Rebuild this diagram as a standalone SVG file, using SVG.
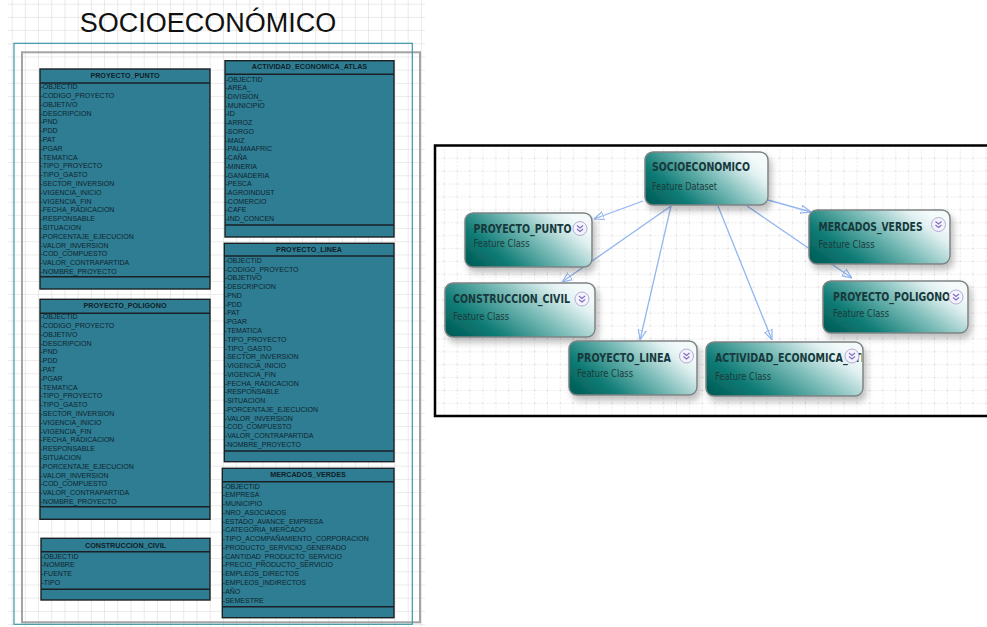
<svg xmlns="http://www.w3.org/2000/svg" width="987" height="627" viewBox="0 0 987 627">
  <defs>
    <style>
      .tbl { fill: #2e7d92; stroke: #1b2024; stroke-width: 1.4; }
      .sep { stroke: #1b2024; stroke-width: 1.4; }
      .thead { font-family: "Liberation Sans", Arial, sans-serif; font-size: 7.2px; font-weight: bold; fill: #0f1e28; text-anchor: middle; }
      .trow { font-family: "Liberation Sans", Arial, sans-serif; font-size: 7px; fill: #0f2430; }
      .node { fill: url(#nodeFill); stroke: #7d8383; stroke-width: 1.5; filter: url(#shadow); }
      .ntitle { font-family: "DejaVu Sans", "Liberation Sans", sans-serif; font-size: 12.5px; font-weight: bold; fill: #17393c; }
      .nsub { font-family: "DejaVu Sans", "Liberation Sans", sans-serif; font-size: 10px; fill: #1d3b3c; }
      .edge { stroke: #93b6ef; stroke-width: 1.3; fill: none; marker-end: url(#openArrow); }
    </style>
    <!-- plain square grid of the schema sheet -->
    <pattern id="sheetGrid" patternUnits="userSpaceOnUse" x="11.7" y="3.7" width="13.2" height="13.2">
      <path d="M0,0 H13.2 M0,0 V13.2" stroke="#d6d6d6" stroke-width="1" fill="none"/>
    </pattern>
    <!-- dashed grid of the dataset canvas -->
    <pattern id="canvasGrid" patternUnits="userSpaceOnUse" x="456.7" y="170.7" width="12.9" height="12.9">
      <path d="M0,0 H12.9 M0,0 V12.9" stroke="#d9d9d9" stroke-width="1" stroke-dasharray="2 1.6" fill="none"/>
    </pattern>
    <linearGradient id="nodeFill" x1="0" y1="0.85" x2="1" y2="0.35">
      <stop offset="0" stop-color="#005f59"/>
      <stop offset="0.25" stop-color="#127d77"/>
      <stop offset="0.6" stop-color="#7dbdb9"/>
      <stop offset="0.88" stop-color="#e0f0f0"/>
      <stop offset="1" stop-color="#f4fafa"/>
    </linearGradient>
    <filter id="shadow" x="-10%" y="-15%" width="125%" height="145%">
      <feDropShadow dx="3" dy="5" stdDeviation="3" flood-color="#000" flood-opacity="0.25"/>
    </filter>
    <marker id="openArrow" viewBox="0 0 10 10" refX="10" refY="5" markerWidth="10" markerHeight="10" markerUnits="userSpaceOnUse" orient="auto">
      <path d="M0,1 L10,5 L0,9 Z" fill="none" stroke="#93b6ef" stroke-width="1.2"/>
    </marker>
    <!-- expand / collapse button -->
    <g id="expandBtn">
      <circle r="7" fill="#f4f2fb" stroke="#b4acd4" stroke-width="1"/>
      <path d="M-3,-3 L0,-0.5 L3,-3 M-3,0.5 L0,3 L3,0.5" stroke="#7d6fc0" stroke-width="1.1" fill="none"/>
    </g>
    <clipPath id="clipAtlas">
      <rect x="706" y="342" width="156" height="54"/>
    </clipPath>
  </defs>

  <rect width="987" height="627" fill="#ffffff"/>

  <!-- ===== Schema sheet ===== -->
  <rect x="8" y="0" width="417" height="627" fill="url(#sheetGrid)"/>
  <text x="208" y="32" font-family="Liberation Sans, Arial, sans-serif" font-size="27" fill="#111" text-anchor="middle">SOCIOECONÓMICO</text>
  <rect x="22" y="52.3" width="398" height="570" fill="none" stroke="#a3a3a3" stroke-width="2"/>
  <rect x="14" y="43.3" width="398.3" height="581" fill="none" stroke="#3b96a6" stroke-width="1.2"/>

  <g id="tbl-proyecto-punto">
    <rect class="tbl" x="40" y="69" width="170" height="220"/>
    <line class="sep" x1="40" y1="83" x2="210" y2="83"/>
    <line class="sep" x1="40" y1="276.7" x2="210" y2="276.7"/>
    <text class="thead" x="125" y="77.8">PROYECTO_PUNTO</text>
    <text class="trow" y="89.2">
      <tspan x="40.5">-OBJECTID</tspan><tspan x="40.5" dy="8.8">-CODIGO_PROYECTO</tspan><tspan x="40.5" dy="8.8">-OBJETIVO</tspan><tspan x="40.5" dy="8.8">-DESCRIPCION</tspan><tspan x="40.5" dy="8.8">-PND</tspan><tspan x="40.5" dy="8.8">-PDD</tspan><tspan x="40.5" dy="8.8">-PAT</tspan><tspan x="40.5" dy="8.8">-PGAR</tspan><tspan x="40.5" dy="8.8">-TEMATICA</tspan><tspan x="40.5" dy="8.8">-TIPO_PROYECTO</tspan><tspan x="40.5" dy="8.8">-TIPO_GASTO</tspan><tspan x="40.5" dy="8.8">-SECTOR_INVERSION</tspan><tspan x="40.5" dy="8.8">-VIGENCIA_INICIO</tspan><tspan x="40.5" dy="8.8">-VIGENCIA_FIN</tspan><tspan x="40.5" dy="8.8">-FECHA_RADICACION</tspan><tspan x="40.5" dy="8.8">-RESPONSABLE</tspan><tspan x="40.5" dy="8.8">-SITUACION</tspan><tspan x="40.5" dy="8.8">-PORCENTAJE_EJECUCION</tspan><tspan x="40.5" dy="8.8">-VALOR_INVERSION</tspan><tspan x="40.5" dy="8.8">-COD_COMPUESTO</tspan><tspan x="40.5" dy="8.8">-VALOR_CONTRAPARTIDA</tspan><tspan x="40.5" dy="8.8">-NOMBRE_PROYECTO</tspan>
    </text>
  </g>

  <g id="tbl-proyecto-poligono">
    <rect class="tbl" x="40" y="299.3" width="170" height="220"/>
    <line class="sep" x1="40" y1="313.3" x2="210" y2="313.3"/>
    <line class="sep" x1="40" y1="506.7" x2="210" y2="506.7"/>
    <text class="thead" x="125" y="307.8">PROYECTO_POLIGONO</text>
    <text class="trow" y="319.2">
      <tspan x="40.5">-OBJECTID</tspan><tspan x="40.5" dy="8.8">-CODIGO_PROYECTO</tspan><tspan x="40.5" dy="8.8">-OBJETIVO</tspan><tspan x="40.5" dy="8.8">-DESCRIPCION</tspan><tspan x="40.5" dy="8.8">-PND</tspan><tspan x="40.5" dy="8.8">-PDD</tspan><tspan x="40.5" dy="8.8">-PAT</tspan><tspan x="40.5" dy="8.8">-PGAR</tspan><tspan x="40.5" dy="8.8">-TEMATICA</tspan><tspan x="40.5" dy="8.8">-TIPO_PROYECTO</tspan><tspan x="40.5" dy="8.8">-TIPO_GASTO</tspan><tspan x="40.5" dy="8.8">-SECTOR_INVERSION</tspan><tspan x="40.5" dy="8.8">-VIGENCIA_INICIO</tspan><tspan x="40.5" dy="8.8">-VIGENCIA_FIN</tspan><tspan x="40.5" dy="8.8">-FECHA_RADICACION</tspan><tspan x="40.5" dy="8.8">-RESPONSABLE</tspan><tspan x="40.5" dy="8.8">-SITUACION</tspan><tspan x="40.5" dy="8.8">-PORCENTAJE_EJECUCION</tspan><tspan x="40.5" dy="8.8">-VALOR_INVERSION</tspan><tspan x="40.5" dy="8.8">-COD_COMPUESTO</tspan><tspan x="40.5" dy="8.8">-VALOR_CONTRAPARTIDA</tspan><tspan x="40.5" dy="8.8">-NOMBRE_PROYECTO</tspan>
    </text>
  </g>

  <g id="tbl-construccion-civil">
    <rect class="tbl" x="41" y="538.3" width="169" height="61.7"/>
    <line class="sep" x1="41" y1="551.7" x2="210" y2="551.7"/>
    <line class="sep" x1="41" y1="589.3" x2="210" y2="589.3"/>
    <text class="thead" x="125.5" y="547.5">CONSTRUCCION_CIVIL</text>
    <text class="trow" y="558.5">
      <tspan x="41.5">-OBJECTID</tspan><tspan x="41.5" dy="8.8">-NOMBRE</tspan><tspan x="41.5" dy="8.8">-FUENTE</tspan><tspan x="41.5" dy="8.8">-TIPO</tspan>
    </text>
  </g>

  <g id="tbl-actividad-economica-atlas">
    <rect class="tbl" x="225" y="60.7" width="169" height="176.3"/>
    <line class="sep" x1="225" y1="74.3" x2="394" y2="74.3"/>
    <line class="sep" x1="225" y1="225" x2="394" y2="225"/>
    <text class="thead" x="309.5" y="69.2">ACTIVIDAD_ECONOMICA_ATLAS</text>
    <text class="trow" y="81.5">
      <tspan x="225.5">-OBJECTID</tspan><tspan x="225.5" dy="8.73">-AREA_</tspan><tspan x="225.5" dy="8.73">-DIVISION_</tspan><tspan x="225.5" dy="8.73">-MUNICIPIO</tspan><tspan x="225.5" dy="8.73">-ID</tspan><tspan x="225.5" dy="8.73">-ARROZ</tspan><tspan x="225.5" dy="8.73">-SORGO</tspan><tspan x="225.5" dy="8.73">-MAIZ</tspan><tspan x="225.5" dy="8.73">-PALMAAFRIC</tspan><tspan x="225.5" dy="8.73">-CAÑA</tspan><tspan x="225.5" dy="8.73">-MINERIA</tspan><tspan x="225.5" dy="8.73">-GANADERIA</tspan><tspan x="225.5" dy="8.73">-PESCA</tspan><tspan x="225.5" dy="8.73">-AGROINDUST</tspan><tspan x="225.5" dy="8.73">-COMERCIO</tspan><tspan x="225.5" dy="8.73">-CAFE</tspan><tspan x="225.5" dy="8.73">-IND_CONCEN</tspan>
    </text>
  </g>

  <g id="tbl-proyecto-linea">
    <rect class="tbl" x="224.3" y="243.3" width="169.7" height="218.4"/>
    <line class="sep" x1="224.3" y1="256" x2="394" y2="256"/>
    <line class="sep" x1="224.3" y1="451" x2="394" y2="451"/>
    <text class="thead" x="309" y="251.5">PROYECTO_LINEA</text>
    <text class="trow" y="262.8">
      <tspan x="224.8">-OBJECTID</tspan><tspan x="224.8" dy="8.77">-CODIGO_PROYECTO</tspan><tspan x="224.8" dy="8.77">-OBJETIVO</tspan><tspan x="224.8" dy="8.77">-DESCRIPCION</tspan><tspan x="224.8" dy="8.77">-PND</tspan><tspan x="224.8" dy="8.77">-PDD</tspan><tspan x="224.8" dy="8.77">-PAT</tspan><tspan x="224.8" dy="8.77">-PGAR</tspan><tspan x="224.8" dy="8.77">-TEMATICA</tspan><tspan x="224.8" dy="8.77">-TIPO_PROYECTO</tspan><tspan x="224.8" dy="8.77">-TIPO_GASTO</tspan><tspan x="224.8" dy="8.77">-SECTOR_INVERSION</tspan><tspan x="224.8" dy="8.77">-VIGENCIA_INICIO</tspan><tspan x="224.8" dy="8.77">-VIGENCIA_FIN</tspan><tspan x="224.8" dy="8.77">-FECHA_RADICACION</tspan><tspan x="224.8" dy="8.77">-RESPONSABLE</tspan><tspan x="224.8" dy="8.77">-SITUACION</tspan><tspan x="224.8" dy="8.77">-PORCENTAJE_EJECUCION</tspan><tspan x="224.8" dy="8.77">-VALOR_INVERSION</tspan><tspan x="224.8" dy="8.77">-COD_COMPUESTO</tspan><tspan x="224.8" dy="8.77">-VALOR_CONTRAPARTIDA</tspan><tspan x="224.8" dy="8.77">-NOMBRE_PROYECTO</tspan>
    </text>
  </g>

  <g id="tbl-mercados-verdes">
    <rect class="tbl" x="222.3" y="468.3" width="171.7" height="149.4"/>
    <line class="sep" x1="222.3" y1="481.7" x2="394" y2="481.7"/>
    <line class="sep" x1="222.3" y1="606.7" x2="394" y2="606.7"/>
    <text class="thead" x="308" y="476.8">MERCADOS_VERDES</text>
    <text class="trow" y="488.5">
      <tspan x="222.8">-OBJECTID</tspan><tspan x="222.8" dy="8.77">-EMPRESA</tspan><tspan x="222.8" dy="8.77">-MUNICIPIO</tspan><tspan x="222.8" dy="8.77">-NRO_ASOCIADOS</tspan><tspan x="222.8" dy="8.77">-ESTADO_AVANCE_EMPRESA</tspan><tspan x="222.8" dy="8.77">-CATEGORIA_MERCADO</tspan><tspan x="222.8" dy="8.77">-TIPO_ACOMPAÑAMIENTO_CORPORACION</tspan><tspan x="222.8" dy="8.77">-PRODUCTO_SERVICIO_GENERADO</tspan><tspan x="222.8" dy="8.77">-CANTIDAD_PRODUCTO_SERVICIO</tspan><tspan x="222.8" dy="8.77">-PRECIO_PRODUCTO_SERVICIO</tspan><tspan x="222.8" dy="8.77">-EMPLEOS_DIRECTOS</tspan><tspan x="222.8" dy="8.77">-EMPLEOS_INDIRECTOS</tspan><tspan x="222.8" dy="8.77">-AÑO</tspan><tspan x="222.8" dy="8.77">-SEMESTRE</tspan>
    </text>
  </g>

  <!-- ===== Dataset canvas ===== -->
  <rect x="435" y="145.5" width="560" height="270.5" fill="#ffffff"/>
  <rect x="435" y="145.5" width="560" height="270.5" fill="url(#canvasGrid)"/>

  <g id="connectors">
    <line class="edge" x1="643" y1="201" x2="594" y2="219"/>
    <line class="edge" x1="671" y1="206" x2="562" y2="282"/>
    <line class="edge" x1="671" y1="206" x2="640" y2="340"/>
    <line class="edge" x1="718" y1="206" x2="772" y2="340"/>
    <line class="edge" x1="768" y1="200" x2="811" y2="212"/>
    <line class="edge" x1="747" y1="206" x2="852" y2="278"/>
  </g>

  <g id="node-socioeconomico">
    <rect class="node" x="645" y="152" width="123" height="53" rx="8"/>
    <text class="ntitle" x="652" y="170.7" textLength="98" lengthAdjust="spacingAndGlyphs">SOCIOECONOMICO</text>
    <text class="nsub" x="652" y="189.5" textLength="65" lengthAdjust="spacingAndGlyphs">Feature Dataset</text>
  </g>

  <g id="node-proyecto-punto">
    <rect class="node" x="465" y="213" width="127" height="54" rx="8"/>
    <text class="ntitle" x="473.5" y="233" textLength="98" lengthAdjust="spacingAndGlyphs">PROYECTO_PUNTO</text>
    <text class="nsub" x="473.5" y="247" textLength="56" lengthAdjust="spacingAndGlyphs">Feature Class</text>
    <use href="#expandBtn" x="580" y="228.5"/>
  </g>

  <g id="node-mercados-verdes">
    <rect class="node" x="809" y="210" width="141" height="54" rx="8"/>
    <text class="ntitle" x="818.5" y="230.5" textLength="104" lengthAdjust="spacingAndGlyphs">MERCADOS_VERDES</text>
    <text class="nsub" x="818.5" y="248" textLength="56" lengthAdjust="spacingAndGlyphs">Feature Class</text>
    <use href="#expandBtn" x="938.5" y="224.5"/>
  </g>

  <g id="node-construccion-civil">
    <rect class="node" x="445" y="283" width="150" height="54" rx="8"/>
    <text class="ntitle" x="453" y="303" textLength="117" lengthAdjust="spacingAndGlyphs">CONSTRUCCION_CIVIL</text>
    <text class="nsub" x="453" y="320" textLength="56" lengthAdjust="spacingAndGlyphs">Feature Class</text>
    <use href="#expandBtn" x="582" y="299"/>
  </g>

  <g id="node-proyecto-poligono">
    <rect class="node" x="823" y="281" width="145" height="52" rx="8"/>
    <text class="ntitle" x="833" y="300.5" textLength="117" lengthAdjust="spacingAndGlyphs">PROYECTO_POLIGONO</text>
    <text class="nsub" x="833" y="316.5" textLength="56" lengthAdjust="spacingAndGlyphs">Feature Class</text>
    <use href="#expandBtn" x="956" y="297"/>
  </g>

  <g id="node-proyecto-linea">
    <rect class="node" x="569" y="341" width="128" height="54" rx="8"/>
    <text class="ntitle" x="577" y="361.5" textLength="94" lengthAdjust="spacingAndGlyphs">PROYECTO_LINEA</text>
    <text class="nsub" x="577" y="377" textLength="56" lengthAdjust="spacingAndGlyphs">Feature Class</text>
    <use href="#expandBtn" x="686.5" y="356"/>
  </g>

  <g id="node-actividad-economica-atlas">
    <rect class="node" x="706" y="342" width="157" height="54" rx="8"/>
    <text class="ntitle" x="715" y="361.5" textLength="166" lengthAdjust="spacingAndGlyphs" clip-path="url(#clipAtlas)">ACTIVIDAD_ECONOMICA_ATLAS</text>
    <text class="nsub" x="715" y="379.5" textLength="56" lengthAdjust="spacingAndGlyphs">Feature Class</text>
    <use href="#expandBtn" x="852" y="356"/>
  </g>

  <rect x="435" y="145.5" width="560" height="270.5" fill="none" stroke="#000" stroke-width="2.5"/>
</svg>
